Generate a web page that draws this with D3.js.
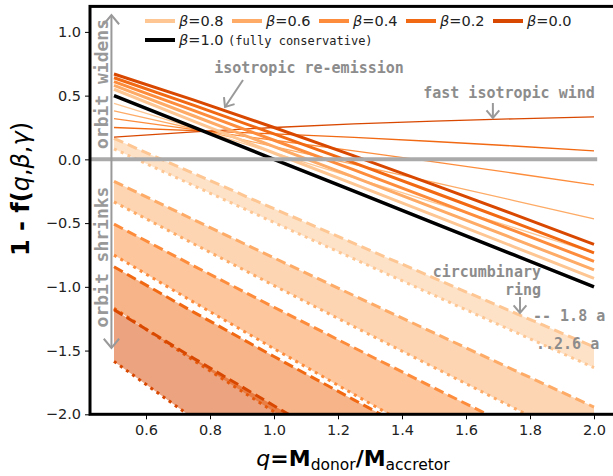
<!DOCTYPE html>
<html>
<head>
<meta charset="utf-8">
<script src="https://cdn.jsdelivr.net/npm/d3@7"></script>
<style>
  body { margin: 0; background: #fff; }
  svg { display: block; font-family: "DejaVu Sans", sans-serif; }
</style>
</head>
<body>
<div id="chart"></div>
<script>
var qValues = [0.5, 0.75, 1.0, 1.25, 1.5, 1.75, 2.0];

// beta values (light -> dark) and their colours
var betaLabels = ["0.8", "0.6", "0.4", "0.2", "0.0"];
var betaColors = ["#fdc692", "#fdab66", "#fd8d3c", "#f16913", "#d94801"];

// beta = 1.0, fully conservative
var conservative = [0.5, 0.25, 0.0, -0.25, -0.5, -0.75, -1.0];

// isotropic re-emission (thick lines), one row per beta
var reemission = [
  [0.55, 0.298, 0.05, -0.194, -0.44, -0.686, -0.933],
  [0.58, 0.34, 0.1, -0.139, -0.38, -0.623, -0.867],
  [0.61, 0.382, 0.15, -0.083, -0.32, -0.559, -0.8],
  [0.64, 0.423, 0.2, -0.028, -0.26, -0.495, -0.733],
  [0.67, 0.465, 0.25, 0.028, -0.2, -0.432, -0.667]
];

// fast isotropic wind (thin lines)
var fastWind = [
  [0.44, 0.245, 0.05, -0.144, -0.34, -0.536, -0.733],
  [0.38, 0.24, 0.1, -0.039, -0.18, -0.323, -0.467],
  [0.32, 0.234, 0.15, 0.067, -0.02, -0.109, -0.2],
  [0.25, 0.225, 0.2, 0.172, 0.14, 0.105, 0.067],
  [0.175, 0.216, 0.25, 0.278, 0.3, 0.318, 0.333]
];

// circumbinary ring at 1.8 a (dashed)
var ringNear = [
  [0.164, -0.112, -0.387, -0.659, -0.931, -1.202, -1.472],
  [-0.172, -0.475, -0.773, -1.069, -1.362, -1.653, -1.943],
  [-0.508, -0.837, -1.16, -1.478, -1.793, -2.105, -2.415],
  [-0.843, -1.2, -1.547, -1.887, -2.223, -2.556, -2.887],
  [-1.179, -1.562, -1.933, -2.297, -2.654, -3.008, -3.358]
];

// circumbinary ring at 2.6 a (dotted)
var ringFar = [
  [0.083, -0.207, -0.495, -0.781, -1.066, -1.351, -1.634],
  [-0.334, -0.664, -0.99, -1.312, -1.632, -1.951, -2.268],
  [-0.751, -1.122, -1.485, -1.844, -2.199, -2.552, -2.902],
  [-1.168, -1.579, -1.98, -2.375, -2.765, -3.152, -3.537],
  [-1.585, -2.036, -2.475, -2.906, -3.331, -3.753, -4.171]
];

var xTicks = [0.6, 0.8, 1.0, 1.2, 1.4, 1.6, 1.8, 2.0];
var yTicks = [-2.0, -1.5, -1.0, -0.5, 0.0, 0.5, 1.0];

function draw() {
  var width = 613, height = 476;
  var pL = 90, pR = 618, pT = 6.4, pB = 414.3;

  var x = d3.scaleLinear().domain([0.425, 2.075]).range([pL, pR]);
  var y = d3.scaleLinear().domain([-2, 1.2]).range([pB, pT]);

  var svg = d3.select("#chart").append("svg")
      .attr("width", width)
      .attr("height", height);

  svg.append("clipPath").attr("id", "plotclip")
    .append("rect")
      .attr("x", pL).attr("y", pT)
      .attr("width", pR - pL).attr("height", pB - pT);

  var plot = svg.append("g").attr("clip-path", "url(#plotclip)");

  var line = d3.line()
      .x(function(d, i) { return x(qValues[i]); })
      .y(function(d) { return y(d); });

  // bands for the circumbinary ring
  ringNear.forEach(function(row, k) {
    var area = d3.area()
        .x(function(d, i) { return x(qValues[i]); })
        .y0(function(d, i) { return y(ringFar[k][i]); })
        .y1(function(d) { return y(d); });
    plot.append("path")
        .attr("d", area(row))
        .attr("fill", betaColors[k])
        .attr("fill-opacity", 0.5);
    plot.append("path")
        .attr("d", line(row))
        .attr("fill", "none")
        .attr("stroke", betaColors[k])
        .attr("stroke-width", 3)
        .attr("stroke-dasharray", "10,5");
    plot.append("path")
        .attr("d", line(ringFar[k]))
        .attr("fill", "none")
        .attr("stroke", betaColors[k])
        .attr("stroke-width", 3)
        .attr("stroke-dasharray", "3,4.5");
  });

  // fast wind, thin
  fastWind.forEach(function(row, k) {
    plot.append("path")
        .attr("d", line(row))
        .attr("fill", "none")
        .attr("stroke", betaColors[k])
        .attr("stroke-width", 1.3);
  });

  // re-emission, thick
  reemission.forEach(function(row, k) {
    plot.append("path")
        .attr("d", line(row))
        .attr("fill", "none")
        .attr("stroke", betaColors[k])
        .attr("stroke-width", 3);
  });

  plot.append("path")
      .attr("d", line(conservative))
      .attr("fill", "none")
      .attr("stroke", "#000")
      .attr("stroke-width", 3.5);

  // zero line
  plot.append("line")
      .attr("x1", pL).attr("x2", x(2.01))
      .attr("y1", y(0)).attr("y2", y(0))
      .attr("stroke", "#aaa")
      .attr("stroke-width", 4);

  // arrows
  var grey = "#999";
  function arrow(x1, y1, x2, y2, size) {
    var ang = Math.atan2(y2 - y1, x2 - x1);
    svg.append("line")
        .attr("x1", x1).attr("y1", y1).attr("x2", x2).attr("y2", y2)
        .attr("stroke", grey).attr("stroke-width", 2);
    var a1 = ang + Math.PI * 0.78, a2 = ang - Math.PI * 0.78;
    svg.append("path")
        .attr("d", "M" + (x2 + size * Math.cos(a1)) + "," + (y2 + size * Math.sin(a1)) +
                   "L" + x2 + "," + y2 +
                   "L" + (x2 + size * Math.cos(a2)) + "," + (y2 + size * Math.sin(a2)))
        .attr("fill", "none")
        .attr("stroke", grey).attr("stroke-width", 2);
  }

  var ax = x(0.492);
  arrow(ax, y(0), ax, 15, 12);
  arrow(ax, y(0), ax, 348, 12);
  arrow(243, 80, 225, 107, 10);
  arrow(x(1.684), 103, x(1.684), 118, 10);
  arrow(520, 297, 520, 313, 10);

  // annotations
  var mono = '"DejaVu Sans Mono", monospace';
  function note(tx, ty, txt, anchor) {
    svg.append("text")
        .attr("x", tx).attr("y", ty)
        .attr("text-anchor", anchor || "middle")
        .attr("font-family", mono)
        .attr("font-weight", "bold")
        .attr("font-size", 15)
        .attr("fill", "#8c8c8c")
        .text(txt);
  }
  note(309, 73, "isotropic re-emission");
  note(509, 98, "fast isotropic wind");
  note(541, 277, "circumbinary", "end");
  note(541, 295, "ring", "end");
  note(533, 321, "-- 1.8 a", "start");
  note(536, 349, "..2.6 a", "start");

  svg.append("text")
      .attr("transform", "translate(108,84) rotate(-90)")
      .attr("text-anchor", "middle")
      .attr("font-family", mono).attr("font-weight", "bold")
      .attr("font-size", 18).attr("fill", "#999")
      .text("orbit widens");
  svg.append("text")
      .attr("transform", "translate(108,257) rotate(-90)")
      .attr("text-anchor", "middle")
      .attr("font-family", mono).attr("font-weight", "bold")
      .attr("font-size", 18).attr("fill", "#999")
      .text("orbit shrinks");

  // legend
  var legX = [145, 232, 319, 406, 493];
  betaLabels.forEach(function(b, k) {
    svg.append("line")
        .attr("x1", legX[k]).attr("x2", legX[k] + 30)
        .attr("y1", 21).attr("y2", 21)
        .attr("stroke", betaColors[k]).attr("stroke-width", 4);
    var t = svg.append("text")
        .attr("x", legX[k] + 34).attr("y", 26)
        .attr("font-size", 14.5).attr("fill", "#222");
    t.append("tspan").attr("font-style", "italic").text("β");
    t.append("tspan").text("=" + b);
  });
  svg.append("line")
      .attr("x1", 145).attr("x2", 175)
      .attr("y1", 40).attr("y2", 40)
      .attr("stroke", "#000").attr("stroke-width", 4);
  var t2 = svg.append("text")
      .attr("x", 179).attr("y", 45)
      .attr("font-size", 14.5).attr("fill", "#222");
  t2.append("tspan").attr("font-style", "italic").text("β");
  t2.append("tspan").text("=1.0 ");
  t2.append("tspan").attr("font-family", mono).attr("font-size", 12).text("(fully conservative)");

  // axes
  var fmt = d3.format(".1f");
  var gx = svg.append("g")
      .attr("transform", "translate(0," + pB + ")")
      .call(d3.axisBottom(x).tickValues(xTicks).tickSize(5).tickPadding(5).tickFormat(fmt));
  var gy = svg.append("g")
      .attr("transform", "translate(" + pL + ",0)")
      .call(d3.axisLeft(y).tickValues(yTicks).tickSize(5).tickPadding(4).tickFormat(fmt));
  [gx, gy].forEach(function(g) {
    g.select(".domain").remove();
    g.selectAll("text").attr("font-size", 14.5).attr("fill", "#222")
        .attr("font-family", '"DejaVu Sans", sans-serif');
  });

  // spines
  svg.append("rect")
      .attr("x", pL).attr("y", pT)
      .attr("width", pR - pL).attr("height", pB - pT)
      .attr("fill", "none")
      .attr("stroke", "#000")
      .attr("stroke-width", 3);

  // axis labels
  var xl = svg.append("text")
      .attr("x", 353).attr("y", 466)
      .attr("text-anchor", "middle")
      .attr("font-size", 22).attr("fill", "#000");
  xl.append("tspan").attr("font-style", "italic").text("q");
  xl.append("tspan").attr("font-weight", "bold").text("=M");
  xl.append("tspan").attr("font-size", 15.5).attr("dy", 4).text("donor");
  xl.append("tspan").attr("font-weight", "bold").attr("dy", -4).text("/M");
  xl.append("tspan").attr("font-size", 15.5).attr("dy", 4).text("accretor");

  var yl = svg.append("text")
      .attr("transform", "translate(29,189) rotate(-90)")
      .attr("text-anchor", "middle")
      .attr("font-size", 24).attr("fill", "#000");
  yl.append("tspan").attr("font-weight", "bold").text("1 - f(");
  yl.append("tspan").attr("font-style", "italic").text("q");
  yl.append("tspan").text(",");
  yl.append("tspan").attr("font-style", "italic").text("β");
  yl.append("tspan").text(",");
  yl.append("tspan").attr("font-style", "italic").text("γ");
  yl.append("tspan").text(")");
}

window.onload = draw;
</script>
</body>
</html>
